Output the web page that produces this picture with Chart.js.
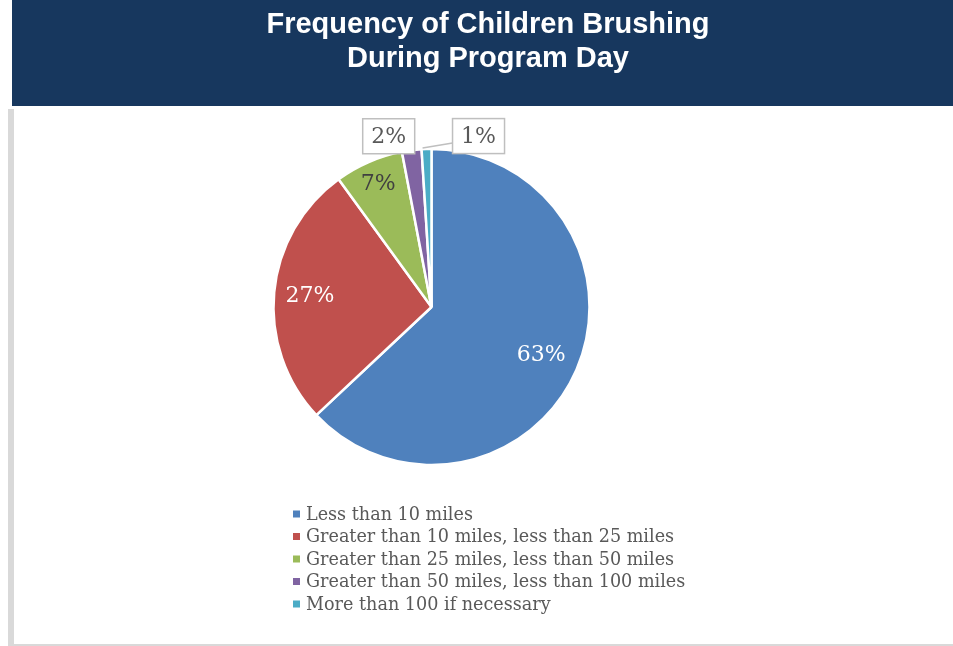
<!DOCTYPE html>
<html>
<head>
<meta charset="utf-8">
<script src="https://cdn.jsdelivr.net/npm/chart.js@4.4.1/dist/chart.umd.min.js"></script>
<style>
  html,body{margin:0;padding:0;background:#fff;}
  canvas{display:block;}
</style>
</head>
<body>
<canvas id="mychart" width="953" height="646"></canvas>
<script>
// chart values
const titleLines=['Frequency of Children Brushing','During Program Day'];
const distances=[
  'Less than 10 miles',
  'Greater than 10 miles, less than 25 miles',
  'Greater than 25 miles, less than 50 miles',
  'Greater than 50 miles, less than 100 miles',
  'More than 100 if necessary'
];
const percents=[63,27,7,2,1];
const sliceColors=['#4f81bd','#c0504d','#9bbb59','#8064a2','#4bacc6'];

const navy='#17375e';
const serif='"DejaVu Serif", serif';

// header band, page border and the two-line title
const framePlugin={
  id:'frame',
  beforeDraw(chart){
    const ctx=chart.ctx;
    ctx.save();
    ctx.fillStyle='#fff';
    ctx.fillRect(0,0,chart.width,chart.height);
    ctx.fillStyle=navy;
    ctx.fillRect(12,0,chart.width-12,106);
    ctx.fillStyle='#d9d9d9';
    ctx.fillRect(8,109,6,chart.height-109);
    ctx.fillRect(14,chart.height-2,chart.width-14,2);
    ctx.fillStyle='#fff';
    ctx.font='bold 29px "Liberation Sans", Arial, sans-serif';
    ctx.textAlign='center';
    ctx.textBaseline='middle';
    ctx.fillText(titleLines[0],488,25);
    ctx.fillText(titleLines[1],488,59);
    ctx.restore();
  }
};

// percentage labels: inside for the big slices, boxed callouts for the small ones
const pctLabels={
  id:'pctLabels',
  afterDatasetsDraw(chart,args,opts){
    const ctx=chart.ctx;
    const meta=chart.getDatasetMeta(0);
    ctx.save();
    ctx.font='22px '+serif;
    ctx.textAlign='center';
    ctx.textBaseline='middle';
    meta.data.forEach((arc,i)=>{
      const p=arc.getProps(['x','y','startAngle','endAngle','outerRadius'],true);
      const mid=(p.startAngle+p.endAngle)/2;
      const txt=percents[i]+'%';
      const callout=opts.callouts[i];
      if(callout){
        const ex=p.x+Math.cos(mid)*p.outerRadius;
        const ey=p.y+Math.sin(mid)*p.outerRadius;
        const bx=ex+callout.dx, by=ey+callout.dy;
        const w=52, h=35;
        if(callout.leader){
          ctx.strokeStyle='#bfbfbf';
          ctx.lineWidth=1.5;
          ctx.beginPath();
          ctx.moveTo(bx-w/2,by+7);
          ctx.lineTo(ex-4,ey-1);
          ctx.stroke();
        }
        ctx.fillStyle='#fff';
        ctx.fillRect(bx-w/2,by-h/2,w,h);
        ctx.strokeStyle='#bfbfbf';
        ctx.lineWidth=1.5;
        ctx.strokeRect(bx-w/2,by-h/2,w,h);
        ctx.fillStyle='#595959';
        ctx.fillText(txt,bx,by+1);
      }else{
        const r=p.outerRadius*opts.radius[i];
        ctx.fillStyle=opts.colors[i];
        ctx.fillText(txt,p.x+Math.cos(mid)*r,p.y+Math.sin(mid)*r+1);
      }
    });
    ctx.restore();
  }
};

// vertical legend under the pie
const listLegend={
  id:'listLegend',
  afterDraw(chart,args,opts){
    const ctx=chart.ctx;
    ctx.save();
    ctx.font='17.6px '+serif;
    ctx.textAlign='left';
    ctx.textBaseline='middle';
    distances.forEach((name,i)=>{
      const y=opts.top+i*opts.rowHeight;
      ctx.fillStyle=sliceColors[i];
      ctx.fillRect(opts.left,y-3.5,7,7);
      ctx.fillStyle='#595959';
      ctx.fillText(name,opts.left+13,y+1);
    });
    ctx.restore();
  }
};

const config={
  type:'pie',
  data:{
    labels:distances,
    datasets:[{
      data:percents,
      backgroundColor:sliceColors,
      borderColor:'#fff',
      borderWidth:2.5
    }]
  },
  options:{
    responsive:false,
    animation:false,
    events:[],
    radius:158,
    layout:{padding:{left:273,right:363,top:149,bottom:181}},
    plugins:{
      legend:{display:false},
      tooltip:{enabled:false},
      pctLabels:{
        radius:[0.757,0.773,0.85],
        colors:['#fff','#fff','#404040'],
        callouts:{3:{dx:-23,dy:-14,leader:false},4:{dx:52,dy:-13,leader:true}}
      },
      listLegend:{left:293,top:514,rowHeight:22.5}
    }
  },
  plugins:[framePlugin,pctLabels,listLegend]
};

new Chart(document.getElementById('mychart'),config);
</script>
</body>
</html>
